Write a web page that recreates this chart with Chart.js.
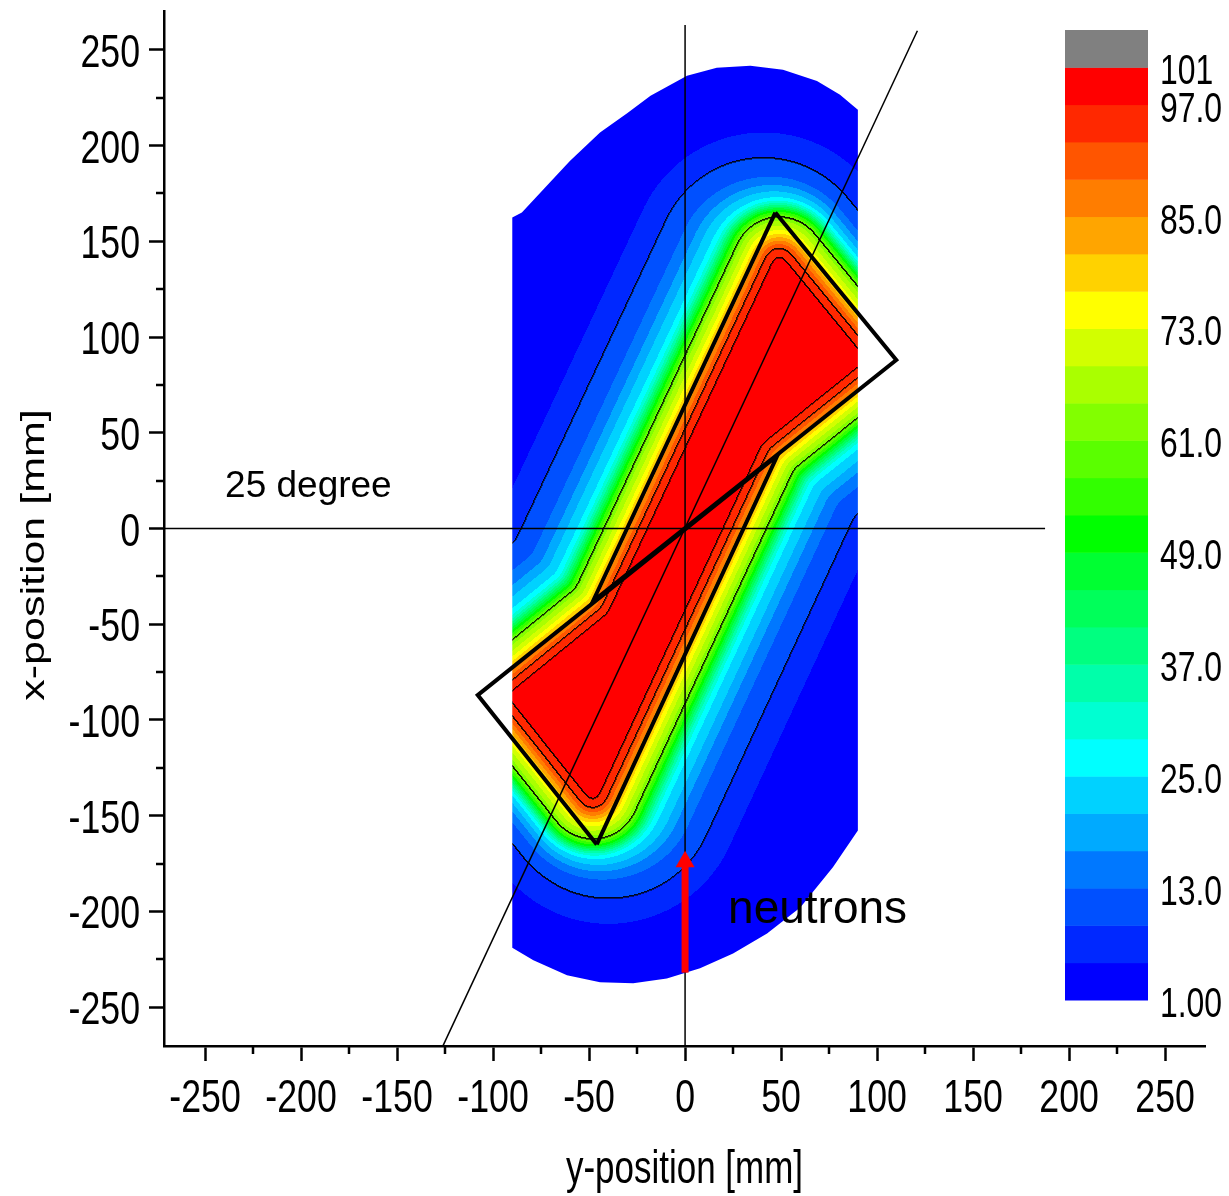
<!DOCTYPE html>
<html>
<head>
<meta charset="utf-8">
<title>Dose map</title>
<script src="https://cdn.jsdelivr.net/npm/chart.js@4.4.0/dist/chart.umd.min.js"></script>
<style>
  html, body { margin: 0; padding: 0; background: #fff; }
  #wrap { position: relative; width: 1229px; height: 1196px; }
</style>
</head>
<body>
<div id="wrap"><canvas id="chart"></canvas></div>
<script>
// ---------- data (all in mm) ----------
const majorTicks = [-250, -200, -150, -100, -50, 0, 50, 100, 150, 200, 250];
const minorTicks = [-225, -175, -125, -75, -25, 25, 75, 125, 175, 225];

// sample corners: top, right, right waist, bottom, left, left waist
const sampleX = [47, 110, 48, -46, -108, -48];
const sampleY = [165, 88, 38, -165, -87, -38];

// outline of the simulated region
const domainX = [-90, -85, -73, -60, -44.3, -30, -18, 1, 16.5, 34, 51, 68.7, 80.7, 87.5, 90,
                 90, 77, 60, 42.7, 25, 7.8, -9.5, -27, -44.3, -61.5, -79, -90];
const domainY = [162.5, 165, 178, 192, 206.8, 217, 226, 236.5, 240.6, 241.7, 239.6, 233.8, 226.6, 220.8, 218.7,
                 -157.8, -176.9, -197.9, -211.5, -222, -229.7, -235, -237.5, -237, -233.3, -225.5, -219];

// dose level against distance from the sample surface (negative = inside)
const profileDist  = [-14, -9.5, -4.5, 0, 4, 11.5, 15, 21, 26, 31, 35, 43, 50, 62, 100];
const profileValue = [100, 97, 93, 82, 73, 61, 49, 27, 23, 19, 15, 11, 9, 5, 2];
// inset of each sample edge (edge i runs from corner i to corner i+1) for the near and far contours;
// the short end edges fall off faster
const nearInset = [15, 13, 13, 15, 13, 13];
const farInset = [22, 6, 6, 22, 6, 6];

// colour scale
const levelEdges = [1, 5, 9, 13, 17, 21, 25, 29, 33, 37, 41, 45, 49, 53, 57, 61, 65, 69, 73, 77, 81, 85, 89, 93, 97, 101];
const bandColors = ['#0000ff', '#0028ff', '#0050ff', '#0078ff', '#00aaff', '#00d2ff', '#00ffff', '#00ffd2',
                    '#00ffaa', '#00ff80', '#00ff5a', '#00ff32', '#00ff00', '#32ff00', '#5aff00', '#82ff00',
                    '#aaff00', '#d2ff00', '#ffff00', '#ffd200', '#ffa500', '#ff7d00', '#ff5500', '#ff2800',
                    '#ff0000', '#808080'];
const barLabelValues = [1, 13, 25, 37, 49, 61, 73, 85, 97, 101];
const barLabels = ['1.00', '13.0', '25.0', '37.0', '49.0', '61.0', '73.0', '85.0', '97.0', '101'];
const contourLevels = [9, 61, 93, 97];

// reference lines
const hLineX = [-272, 187.5];
const vLineY = [-272, 263];
const tiltX = [-126, 121];
const tiltY = [-270, 260];
const arrowY = [-232, -176];
const arrowTipY = -174;

// ---------- look ----------
const FONT = "'Liberation Sans', Arial, sans-serif";
const squeeze = 0.76;    // the axis lettering is horizontally condensed
const blurPx = 4;
const colorBar = { left: 1065, right: 1148, top: 30, bottom: 1000 };

const pt = (xs, ys) => xs.map((x, i) => ({ x: x, y: ys[i] }));
const samplePoly = sampleX.map((x, i) => [x, sampleY[i]]);
const domainPoly = domainX.map((x, i) => [x, domainY[i]]);
const upperTri = [0, 1, 5, 0].map(i => ({ x: sampleX[i], y: sampleY[i] }));
const lowerTri = [3, 4, 2, 3].map(i => ({ x: sampleX[i], y: sampleY[i] }));

function segDist(px, py, ax, ay, bx, by) {
  const dx = bx - ax, dy = by - ay;
  let t = ((px - ax) * dx + (py - ay) * dy) / (dx * dx + dy * dy);
  t = Math.max(0, Math.min(1, t));
  return Math.hypot(ax + t * dx - px, ay + t * dy - py);
}
function insidePoly(px, py, poly) {
  let c = false;
  for (let i = 0, j = poly.length - 1; i < poly.length; j = i++) {
    const [xi, yi] = poly[i], [xj, yj] = poly[j];
    if ((yi > py) !== (yj > py) && px < (xj - xi) * (py - yi) / (yj - yi) + xi) c = !c;
  }
  return c;
}
function signedDist(px, py, poly) {
  let d = Infinity;
  for (let i = 0; i < poly.length; i++) {
    const a = poly[i], b = poly[(i + 1) % poly.length];
    d = Math.min(d, segDist(px, py, a[0], a[1], b[0], b[1]));
  }
  return insidePoly(px, py, poly) ? -d : d;
}
// mitred inward offset of a polygon, one offset per edge
function shrink(poly, rs) {
  const n = poly.length;
  let area = 0;
  for (let i = 0; i < n; i++) {
    const a = poly[i], b = poly[(i + 1) % n];
    area += a[0] * b[1] - b[0] * a[1];
  }
  const lines = [];
  for (let i = 0; i < n; i++) {
    const a = poly[i], b = poly[(i + 1) % n];
    const dx = b[0] - a[0], dy = b[1] - a[1], L = Math.hypot(dx, dy);
    const nx = area > 0 ? -dy / L : dy / L, ny = area > 0 ? dx / L : -dx / L;
    lines.push({ nx, ny, c: nx * a[0] + ny * a[1] + rs[i] });
  }
  return poly.map((_, i) => {
    const l1 = lines[(i - 1 + n) % n], l2 = lines[i];
    const det = l1.nx * l2.ny - l1.ny * l2.nx;
    return [(l1.c * l2.ny - l1.ny * l2.c) / det, (l1.nx * l2.c - l1.c * l2.nx) / det];
  });
}
function profileAt(d) {
  if (d <= profileDist[0]) return profileValue[0];
  for (let k = 0; k < profileDist.length - 1; k++) {
    if (d <= profileDist[k + 1]) {
      const t = (d - profileDist[k]) / (profileDist[k + 1] - profileDist[k]);
      return profileValue[k] + t * (profileValue[k + 1] - profileValue[k]);
    }
  }
  return profileValue[profileValue.length - 1];
}
function bandOf(v) {
  for (let k = levelEdges.length - 1; k >= 0; k--) if (v >= levelEdges[k]) return k;
  return 0;
}
function boxBlur(src, W, H, r) {
  const tmp = new Float32Array(src.length);
  for (let y = 0; y < H; y++) {
    for (let x = 0; x < W; x++) {
      let s = 0;
      for (let k = -r; k <= r; k++) s += src[y * W + Math.min(W - 1, Math.max(0, x + k))];
      tmp[y * W + x] = s / (2 * r + 1);
    }
  }
  for (let y = 0; y < H; y++) {
    for (let x = 0; x < W; x++) {
      let s = 0;
      for (let k = -r; k <= r; k++) s += tmp[Math.min(H - 1, Math.max(0, y + k)) * W + x];
      src[y * W + x] = s / (2 * r + 1);
    }
  }
}
const hexRgb = h => [parseInt(h.slice(1, 3), 16), parseInt(h.slice(3, 5), 16), parseInt(h.slice(5, 7), 16)];

let fieldCache = null;
function buildField(chart) {
  const xs = chart.scales.x, ys = chart.scales.y;
  const x0 = Math.floor(xs.getPixelForValue(Math.min(...domainX) - 3));
  const x1 = Math.ceil(xs.getPixelForValue(Math.max(...domainX) + 3));
  const y0 = Math.floor(ys.getPixelForValue(Math.max(...domainY) + 3));
  const y1 = Math.ceil(ys.getPixelForValue(Math.min(...domainY) - 3));
  const W = x1 - x0, H = y1 - y0;
  const coreNear = shrink(samplePoly, nearInset);
  const coreFar = shrink(samplePoly, farInset);
  const nearR = Math.min(...nearInset), farR = Math.min(...farInset);
  const val = new Float32Array(W * H);
  const mxs = [];
  for (let i = 0; i < W; i++) mxs.push(xs.getValueForPixel(x0 + i + 0.5));
  for (let j = 0; j < H; j++) {
    const my = ys.getValueForPixel(y0 + j + 0.5);
    for (let i = 0; i < W; i++) {
      const d1 = signedDist(mxs[i], my, coreNear) - nearR;
      let d = d1;
      if (d1 > 15) {
        const d2 = signedDist(mxs[i], my, coreFar) - farR;
        const w = Math.min(1, (d1 - 15) / 20);
        d = d1 * (1 - w) + d2 * w;
      }
      val[j * W + i] = profileAt(d);
    }
  }
  boxBlur(val, W, H, blurPx);
  boxBlur(val, W, H, blurPx);

  const ink = new Float32Array(W * H);
  const cross = (a, b) => contourLevels.some(L => (a - L) * (b - L) < 0);
  for (let j = 0; j < H; j++) {
    for (let i = 0; i < W; i++) {
      const k = j * W + i, v = val[k];
      if (i + 1 < W && cross(v, val[k + 1])) { ink[k] = Math.max(ink[k], 0.9); ink[k + 1] = Math.max(ink[k + 1], 0.55); }
      if (j + 1 < H && cross(v, val[k + W])) { ink[k] = Math.max(ink[k], 0.9); ink[k + W] = Math.max(ink[k + W], 0.55); }
    }
  }
  const rgbs = bandColors.map(hexRgb);
  const img = new ImageData(W, H);
  for (let k = 0; k < W * H; k++) {
    const c = rgbs[bandOf(val[k])], f = 1 - ink[k];
    img.data[4 * k] = c[0] * f;
    img.data[4 * k + 1] = c[1] * f;
    img.data[4 * k + 2] = c[2] * f;
    img.data[4 * k + 3] = 255;
  }
  const off = document.createElement('canvas');
  off.width = W; off.height = H;
  off.getContext('2d').putImageData(img, 0, 0);
  return { off, x0, y0 };
}

// condensed text: squeezed along the canvas x direction
function squeezedText(ctx, text, x, y, size, align, rotated) {
  ctx.save();
  ctx.translate(x, y);
  ctx.scale(squeeze, 1);
  if (rotated) ctx.rotate(-Math.PI / 2);
  ctx.font = size + 'px ' + FONT;
  ctx.textAlign = align;
  ctx.textBaseline = 'alphabetic';
  ctx.fillText(text, 0, 0);
  ctx.restore();
}

const fieldPlugin = {
  id: 'field',
  beforeDatasetsDraw(chart) {
    if (!fieldCache) fieldCache = buildField(chart);
    const { ctx } = chart, xs = chart.scales.x, ys = chart.scales.y;
    ctx.save();
    ctx.beginPath();
    domainPoly.forEach(([x, y], i) => {
      const px = xs.getPixelForValue(x), py = ys.getPixelForValue(y);
      if (i === 0) ctx.moveTo(px, py); else ctx.lineTo(px, py);
    });
    ctx.closePath();
    ctx.clip();
    ctx.drawImage(fieldCache.off, fieldCache.x0, fieldCache.y0);
    ctx.restore();
  }
};

const decorPlugin = {
  id: 'decor',
  afterDatasetsDraw(chart) {
    const { ctx } = chart, xs = chart.scales.x, ys = chart.scales.y;
    ctx.save();
    ctx.fillStyle = '#000';
    ctx.textBaseline = 'middle';
    ctx.textAlign = 'left';
    ctx.font = '37px ' + FONT;
    ctx.fillText('25 degree', xs.getPixelForValue(-239.6), ys.getPixelForValue(21.9));
    ctx.font = '46px ' + FONT;
    ctx.fillText('neutrons', xs.getPixelForValue(22.4), ys.getPixelForValue(-199.5));
    ctx.restore();
  },
  afterDraw(chart) {
    const { ctx, chartArea } = chart, xs = chart.scales.x, ys = chart.scales.y;
    ctx.save();
    // minor ticks
    ctx.strokeStyle = '#000';
    ctx.lineWidth = 2.5;
    ctx.beginPath();
    minorTicks.forEach(v => {
      const px = Math.round(xs.getPixelForValue(v));
      ctx.moveTo(px, chartArea.bottom); ctx.lineTo(px, chartArea.bottom + 8);
      const py = Math.round(ys.getPixelForValue(v));
      ctx.moveTo(chartArea.left, py); ctx.lineTo(chartArea.left - 8, py);
    });
    ctx.stroke();

    // tick labels
    ctx.fillStyle = '#000';
    xs.ticks.forEach(t => squeezedText(ctx, String(t.value), xs.getPixelForValue(t.value), chartArea.bottom + 66, 47, 'center'));
    ys.ticks.forEach(t => squeezedText(ctx, String(t.value), chartArea.left - 24, ys.getPixelForValue(t.value) + 17, 47, 'right'));

    // colour bar
    const n = bandColors.length;
    const h = (colorBar.bottom - colorBar.top) / n;
    bandColors.forEach((c, k) => {
      ctx.fillStyle = c;
      ctx.fillRect(colorBar.left, colorBar.bottom - (k + 1) * h, colorBar.right - colorBar.left, h + 0.5);
    });
    ctx.fillStyle = '#000';
    barLabelValues.forEach((v, i) => {
      const y = colorBar.bottom - levelEdges.indexOf(v) * h + 17;
      squeezedText(ctx, barLabels[i], colorBar.right + 12, y, 42, 'left');
    });

    // axis titles
    squeezedText(ctx, 'y-position [mm]', (chartArea.left + chartArea.right) / 2, 1183, 46, 'center');
    squeezedText(ctx, 'x-position [mm]', 44, 555, 43, 'center', true);
    ctx.restore();
  }
};

const lineStyle = { showLine: true, pointRadius: 0, borderColor: '#000', fill: false };
const axisGrid = { display: true, drawOnChartArea: false, drawTicks: true, tickLength: 15, tickWidth: 2.5, tickColor: '#000' };

new Chart(document.getElementById('chart'), {
  type: 'scatter',
  data: {
    datasets: [
      { data: [{ x: 0, y: arrowY[0] }, { x: 0, y: arrowY[1] }], showLine: true, pointRadius: 0,
        borderColor: '#ff0000', borderWidth: 7, order: 0 },
      { data: [{ x: 0, y: arrowTipY }], pointStyle: 'triangle', pointRadius: 11, borderWidth: 0,
        backgroundColor: '#ff0000', order: 0 },
      { ...lineStyle, data: upperTri, borderWidth: 4, borderJoinStyle: 'miter', order: 1 },
      { ...lineStyle, data: lowerTri, borderWidth: 4, borderJoinStyle: 'miter', order: 1 },
      { ...lineStyle, data: pt(hLineX, [0, 0]), borderWidth: 1.5, order: 2 },
      { ...lineStyle, data: pt([0, 0], vLineY), borderWidth: 1.5, order: 2 },
      { ...lineStyle, data: pt(tiltX, tiltY), borderWidth: 1.5, order: 2 }
    ]
  },
  options: {
    responsive: true,
    maintainAspectRatio: false,
    animation: false,
    events: [],
    layout: { padding: { left: 0, top: 8, right: 24, bottom: 0 } },
    plugins: { legend: { display: false }, tooltip: { enabled: false } },
    scales: {
      x: {
        type: 'linear', min: -271.4, max: 270.8,
        afterBuildTicks: s => { s.ticks = majorTicks.map(v => ({ value: v })); },
        afterFit: s => { s.height = 150; s.paddingLeft = 0; s.paddingRight = 0; },
        grid: axisGrid,
        border: { display: true, color: '#000', width: 2.5 },
        ticks: { display: false }
      },
      y: {
        type: 'linear', min: -270.3, max: 270.3,
        afterBuildTicks: s => { s.ticks = majorTicks.map(v => ({ value: v })); },
        afterFit: s => { s.width = 164; s.paddingTop = 0; s.paddingBottom = 0; },
        grid: axisGrid,
        border: { display: true, color: '#000', width: 2.5 },
        ticks: { display: false }
      }
    }
  },
  plugins: [fieldPlugin, decorPlugin]
});
</script>
</body>
</html>
